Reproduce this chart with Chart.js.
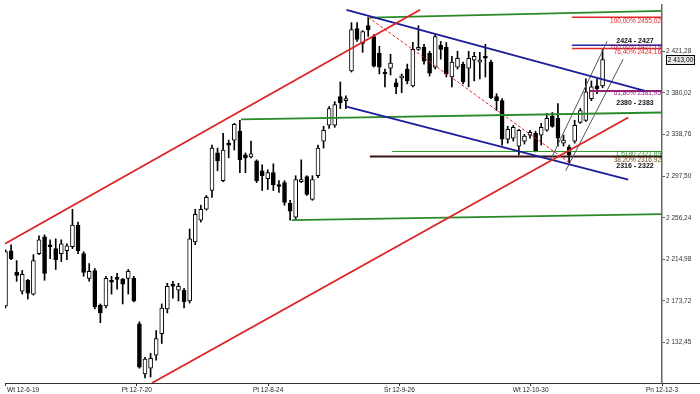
<!DOCTYPE html>
<html>
<head>
<meta charset="utf-8">
<script src="https://cdn.jsdelivr.net/npm/chart.js@4.4.0/dist/chart.umd.min.js"></script>
<style>
  html, body { margin: 0; padding: 0; background: #fff; }
  #wrap { width: 700px; height: 394px; position: relative; }
</style>
</head>
<body>
<div id="wrap"><canvas id="chart"></canvas></div>
<script>
// Notowania dzienne (OHLC), indeks = numer sesji
const opens = [2168.7, 2223.5, 2202.0, 2183.4, 2194.2, 2180.5, 2220.6, 2237.2, 2229.4, 2225.5,
  2220.6, 2223.5, 2227.4, 2249.0, 2220.6, 2196.1, 2203.9, 2169.7, 2168.7, 2193.2,
  2196.1, 2195.1, 2196.1, 2196.1, 2151.1, 2101.2, 2107.0, 2119.8, 2141.3, 2165.8,
  2189.3, 2184.4, 2184.4, 2173.6, 2232.3, 2253.9, 2264.6, 2283.2, 2320.5, 2293.0,
  2329.3, 2333.2, 2342.0, 2318.5, 2316.5, 2312.6, 2302.8, 2295.0, 2300.9, 2288.1,
  2291.1, 2270.5, 2256.8, 2292.1, 2297.0, 2274.4, 2297.9, 2332.2, 2347.9, 2347.9,
  2376.3, 2372.3, 2401.7, 2443.8, 2429.1, 2446.7, 2436.0, 2419.3, 2399.7, 2404.6,
  2390.0, 2394.9, 2403.7, 2387.0, 2423.2, 2425.2, 2419.3, 2405.6, 2427.2, 2425.2,
  2395.8, 2405.6, 2408.6, 2404.6, 2412.5, 2410.5, 2416.4, 2410.5, 2376.3, 2372.3,
  2334.1, 2335.1, 2327.3, 2332.2, 2338.1, 2340.0, 2338.1, 2343.0, 2356.7, 2354.7,
  2330.2, 2326.3, 2332.2, 2350.8, 2352.8, 2374.3, 2387.0, 2387.0];
const highs = [2224.5, 2229.4, 2213.7, 2203.9, 2195.1, 2219.6, 2238.2, 2239.2, 2234.3, 2235.3,
  2234.3, 2230.4, 2264.6, 2251.9, 2222.6, 2210.8, 2205.9, 2170.7, 2198.1, 2198.1,
  2201.0, 2196.1, 2204.9, 2198.1, 2153.0, 2117.8, 2121.7, 2144.2, 2170.7, 2191.2,
  2193.2, 2191.2, 2186.3, 2245.1, 2264.6, 2268.6, 2278.3, 2328.3, 2325.3, 2340.0,
  2333.2, 2349.8, 2352.8, 2320.5, 2332.2, 2313.6, 2308.7, 2303.8, 2309.7, 2293.0,
  2293.0, 2273.5, 2297.9, 2313.6, 2297.9, 2297.9, 2328.3, 2346.9, 2366.5, 2371.4,
  2390.9, 2377.2, 2449.7, 2449.7, 2441.8, 2455.02, 2437.9, 2426.2, 2403.7, 2418.4,
  2393.9, 2398.8, 2408.6, 2430.1, 2446.7, 2428.1, 2421.3, 2437.9, 2431.1, 2430.1,
  2416.4, 2421.3, 2410.5, 2421.3, 2420.3, 2420.3, 2428.1, 2412.5, 2379.2, 2374.3,
  2346.9, 2347.9, 2343.9, 2339.0, 2343.0, 2342.0, 2349.8, 2359.6, 2360.6, 2369.4,
  2338.1, 2328.3, 2352.8, 2364.5, 2393.9, 2391.9, 2393.9, 2423.2];
const lows = [2166.7, 2214.7, 2193.2, 2180.5, 2175.6, 2179.5, 2219.6, 2194.2, 2215.7, 2204.9,
  2212.8, 2214.7, 2225.5, 2220.6, 2198.1, 2193.2, 2165.8, 2152.1, 2166.7, 2180.5,
  2185.4, 2170.7, 2180.5, 2172.6, 2107.0, 2097.3, 2098.2, 2114.9, 2131.5, 2161.8,
  2176.5, 2173.6, 2166.7, 2171.6, 2229.4, 2251.9, 2263.7, 2276.4, 2302.8, 2292.0,
  2315.6, 2323.4, 2300.9, 2300.9, 2315.6, 2291.1, 2283.2, 2284.2, 2283.2, 2281.3,
  2268.6, 2253.9, 2254.9, 2291.1, 2278.3, 2273.5, 2296.0, 2325.3, 2344.9, 2345.9,
  2364.5, 2364.5, 2400.7, 2431.1, 2420.3, 2436.0, 2405.6, 2398.8, 2386.0, 2397.8,
  2379.2, 2380.2, 2389.0, 2386.0, 2422.2, 2408.6, 2396.8, 2403.7, 2413.5, 2395.8,
  2386.0, 2403.7, 2389.0, 2386.0, 2391.9, 2393.9, 2395.8, 2374.3, 2362.6, 2328.3,
  2330.2, 2332.2, 2318.5, 2329.3, 2335.1, 2321.5, 2328.3, 2342.0, 2345.9, 2327.3,
  2327.3, 2310.7, 2330.2, 2349.8, 2351.8, 2372.3, 2379.2, 2385.1];
const closes = [2222.6, 2215.7, 2199.1, 2200.0, 2181.4, 2213.7, 2234.3, 2201.0, 2227.4, 2214.7,
  2230.4, 2228.4, 2249.0, 2223.5, 2202.0, 2203.0, 2167.7, 2161.8, 2196.1, 2192.2,
  2195.1, 2190.2, 2203.0, 2173.6, 2108.0, 2115.9, 2116.8, 2136.4, 2166.7, 2188.3,
  2188.3, 2188.3, 2172.6, 2235.3, 2259.7, 2264.6, 2276.4, 2325.3, 2312.6, 2323.4,
  2328.3, 2348.8, 2313.6, 2315.6, 2319.5, 2293.0, 2297.9, 2300.9, 2289.1, 2287.2,
  2271.5, 2262.7, 2294.0, 2294.0, 2279.3, 2294.0, 2325.3, 2343.0, 2364.5, 2368.4,
  2370.4, 2374.3, 2442.8, 2433.0, 2440.9, 2442.8, 2406.6, 2405.6, 2398.8, 2409.5,
  2386.0, 2396.8, 2391.9, 2423.2, 2425.2, 2411.5, 2399.7, 2436.0, 2423.2, 2398.8,
  2410.5, 2414.4, 2390.9, 2414.4, 2416.4, 2412.5, 2414.4, 2375.3, 2372.3, 2334.1,
  2343.9, 2345.9, 2343.0, 2337.1, 2341.0, 2322.4, 2345.9, 2354.7, 2346.9, 2335.1,
  2333.2, 2318.5, 2347.9, 2362.6, 2381.2, 2386.0, 2384.1, 2413.0];

// Oś X: pozycje (numer sesji) i opisy
const xTickValues = [0, 23.53, 47.06, 70.59, 94.12, 117.65];
const xTickLabels = ['Wt 12-6-19', 'Pt 12-7-20', 'Pt 12-8-24', 'Śr 12-9-26', 'Wt 12-10-30', 'Pn 12-12-3'];
const yTickValues = [2132.45, 2173.72, 2214.98, 2256.24, 2297.50, 2338.76, 2380.02, 2421.28];

// Linie trendu: [numer sesji, kurs]
const redUpper = [[-0.09, 2230.4], [74.3, 2462.4]];
const redLower = [[26.25, 2092.3], [111.6, 2355.7]];
const blueUpper = [[61.1, 2462.4], [114.6, 2382.1]];
const blueLower = [[61.1, 2366.5], [111.6, 2294.0]];
const greenTop = [[65.3, 2454.6], [117.65, 2461.4]];
const greenMid = [[42.2, 2353.7], [117.65, 2360.6]];
const greenLow = [[51.3, 2253.9], [117.65, 2259.7]];
const fibDashed = [[65, 2455.02], [101, 2311.0]];
const thinA = [[97.6, 2312.6], [107.8, 2431.1]];
const thinB = [[100.4, 2302.8], [110.7, 2413.5]];

// Poziomy zniesień / projekcji
const levelValues = [2455.02, 2427.19, 2424.16, 2381.95, 2321.89, 2316.92];
const levelLabels = ['100,00% 2455,02', '200,00% 2427,19', '76,40% 2424,16', '61,80% 2381,95', '1,6180 2321,89', '38,20% 2316,92'];
const levelStart = [101.5, 101.5, 101.5, 104.7, 69.3, 65.3];

// Strefy oporu / wsparcia
const zoneLabels = ['2424 - 2427', '2380 - 2383', '2316 - 2322'];
const zoneValues = [2431.1, 2370.4, 2307.7];

const X_MIN = -0.09, X_MAX = 117.65;
const Y_MIN = 2092.3, Y_MAX = 2467.3;

const FONT = '"Liberation Sans", Arial, sans-serif';
const levelColors = ['#e02828', '#2222a8', '#e02828', '#9a2070', '#2a9a2a', '#3a1414'];
const levelWidths = [1.5, 1.5, 1.5, 2, 1, 2];
const levelTextColors = ['#e02828', '#a0306a', '#e02828', '#8a1a8a', '#2a8a2a', '#6a4a1a'];
const levelTextDy = [4, 2, 3.5, 2.5, 2.5, 3.5];

function fmt(v) {
    return v.toFixed(2).replace('.', ',').replace(/^(\d)(\d{3})/, '$1 $2');
}

function seg(points, color, width, dash) {
    return {
        type: 'line',
        data: points.map(p => ({ x: p[0], y: p[1] })),
        borderColor: color,
        borderWidth: width,
        borderDash: dash || [],
        pointRadius: 0,
        fill: false,
        tension: 0,
        order: 0
    };
}

const wicks = {
    type: 'bar',
    data: opens.map((o, i) => ({ x: i, y: [lows[i], highs[i]] })),
    backgroundColor: '#000',
    barThickness: 1,
    grouped: false,
    order: 2
};

const bodies = {
    type: 'bar',
    data: opens.map((o, i) => ({ x: i, y: [o, closes[i]] })),
    backgroundColor: opens.map((o, i) => closes[i] >= o ? '#fff' : '#000'),
    borderColor: '#000',
    borderWidth: 1,
    borderSkipped: false,
    barThickness: 4,
    minBarLength: 2,
    grouped: false,
    order: 1
};

const lineSets = [
    seg(redUpper, '#dd2222', 1.8),
    seg(redLower, '#dd2222', 1.8),
    seg(blueUpper, '#1c1c9c', 1.8),
    seg(blueLower, '#1c1c9c', 1.8),
    seg(greenTop, '#2a8a2a', 1.8),
    seg(greenMid, '#2a8a2a', 1.8),
    seg(greenLow, '#2a8a2a', 1.8),
    seg(fibDashed, '#e02020', 1, [3, 2]),
    seg(thinA, '#555', 1),
    seg(thinB, '#555', 1)
];

const levelSets = levelValues.map((v, i) =>
    seg([[levelStart[i], v], [X_MAX, v]], levelColors[i], levelWidths[i]));

// Opisy osi X, etykiety poziomów i ramka z kursem
const overlay = {
    id: 'overlay',
    afterDraw(chart) {
        const { ctx, chartArea, scales } = chart;
        const x = scales.x, y = scales.y;
        ctx.save();

        ctx.strokeStyle = '#333';
        ctx.lineWidth = 1;
        ctx.beginPath();
        ctx.moveTo(chartArea.right, chartArea.bottom + 0.5);
        ctx.lineTo(chart.width, chartArea.bottom + 0.5);
        ctx.stroke();

        ctx.font = '6.5px ' + FONT;
        ctx.fillStyle = '#222';
        ctx.textBaseline = 'middle';
        xTickValues.forEach((v, i) => {
            ctx.textAlign = i === 0 ? 'left' : 'center';
            ctx.fillText(xTickLabels[i], x.getPixelForValue(v) + (i === 0 ? 1.5 : 0), chartArea.bottom + 7);
        });

        ctx.font = '6.5px ' + FONT;
        ctx.textAlign = 'right';
        levelValues.forEach((v, i) => {
            ctx.fillStyle = levelTextColors[i];
            ctx.fillText(levelLabels[i], chartArea.right - 1, y.getPixelForValue(v) + levelTextDy[i]);
        });

        ctx.font = 'bold 7px ' + FONT;
        ctx.fillStyle = '#111';
        ctx.textAlign = 'center';
        zoneLabels.forEach((t, i) => {
            ctx.fillText(t, chartArea.right - 27, y.getPixelForValue(zoneValues[i]));
        });

        const last = closes[closes.length - 1];
        const py = Math.round(y.getPixelForValue(last));
        ctx.fillStyle = '#e6e6e6';
        ctx.fillRect(chartArea.right + 4.5, py - 4.5, 28, 9);
        ctx.strokeStyle = '#000';
        ctx.strokeRect(chartArea.right + 4.5, py - 4.5, 28, 9);
        ctx.fillStyle = '#000';
        ctx.font = '6.5px ' + FONT;
        ctx.fillText(fmt(last), chartArea.right + 18.5, py + 0.5);

        ctx.restore();
    }
};

new Chart(document.getElementById('chart'), {
    type: 'bar',
    data: {
        datasets: [wicks, bodies, ...lineSets, ...levelSets]
    },
    options: {
        responsive: true,
        maintainAspectRatio: false,
        animation: false,
        layout: { padding: { left: 5, top: 0, right: 0, bottom: 0 } },
        plugins: {
            legend: { display: false },
            tooltip: { enabled: false }
        },
        scales: {
            x: {
                type: 'linear',
                min: X_MIN,
                max: X_MAX,
                offset: false,
                afterBuildTicks: s => { s.ticks = xTickValues.map(v => ({ value: v })); },
                afterFit: s => { s.height = 11; },
                ticks: { display: false },
                grid: { offset: false, drawOnChartArea: false, drawTicks: true, tickLength: 3, color: '#333' },
                border: { color: '#333', width: 1 }
            },
            y: {
                position: 'right',
                min: Y_MIN,
                max: Y_MAX,
                afterBuildTicks: s => { s.ticks = yTickValues.map(v => ({ value: v })); },
                afterFit: s => { s.width = 38; },
                ticks: {
                    autoSkip: false,
                    padding: 1,
                    color: '#333',
                    font: { family: FONT, size: 6.5 },
                    callback: v => fmt(v)
                },
                grid: { drawOnChartArea: false, drawTicks: true, tickLength: 3, color: '#555' },
                border: { color: '#666', width: 1.5 }
            }
        }
    },
    plugins: [overlay]
});
</script>
</body>
</html>
